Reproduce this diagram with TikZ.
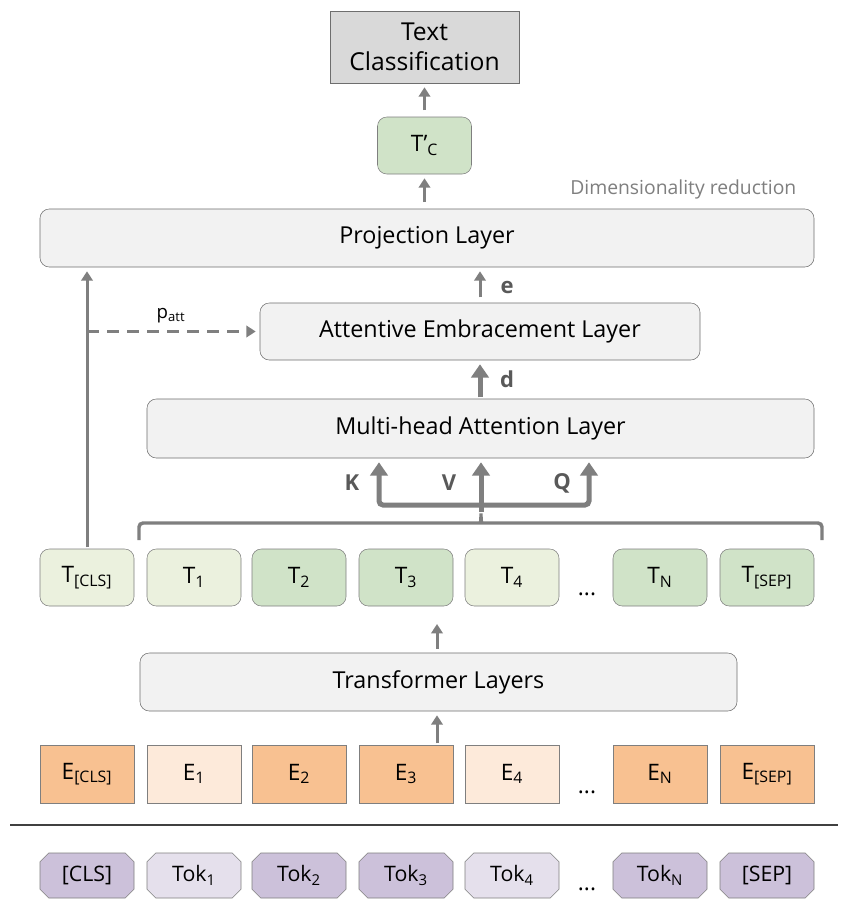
\documentclass[tikz,border=0pt]{standalone}
\usepackage{fontspec}
\setmainfont{Open Sans}
\usetikzlibrary{arrows.meta, shapes.misc}
\definecolor{line gray}{HTML}{7F7F7F}
\definecolor{edge gray}{HTML}{6E6E6E}
\definecolor{label gray}{HTML}{595959}
\definecolor{layer fill}{HTML}{F2F2F2}
\definecolor{class fill}{HTML}{D9D9D9}
\definecolor{green dark}{HTML}{D0E3C8}
\definecolor{green light}{HTML}{EBF1DE}
\definecolor{orange dark}{HTML}{F8C191}
\definecolor{orange light}{HTML}{FDEADA}
\definecolor{purple dark}{HTML}{CCC1DA}
\definecolor{purple light}{HTML}{E5E0EC}
\tikzset{layer/.style={draw=edge gray, fill=layer fill, rounded corners=7pt, inner sep=0pt, font=\fontsize{17.5}{20}\selectfont}}
\tikzset{tbox/.style={draw=line gray, rounded corners=7pt, inner sep=0pt, minimum width=70.5pt, minimum height=42.75pt, font=\fontsize{17}{20}\selectfont}}
\tikzset{ebox/.style={draw=line gray, inner sep=0pt, minimum width=70.5pt, minimum height=43.5pt, font=\fontsize{17}{20}\selectfont}}
\tikzset{tokbox/.style={draw=line gray, chamfered rectangle, chamfered rectangle xsep=3.3pt, chamfered rectangle ysep=3.3pt, inner sep=0pt, minimum width=70.5pt, minimum height=33.75pt, font=\fontsize{16}{19}\selectfont}}
\tikzset{thinarrow/.style={draw=line gray, line width=2.25pt, -{Triangle[width=8.5pt, length=7pt]}, shorten >=3pt}}
\tikzset{thickarrow/.style={draw=line gray, line width=3.75pt, -{Triangle[width=13pt, length=10pt]}, shorten >=3pt}}
\tikzset{dotsnode/.style={anchor=base, font=\fontsize{17}{20}\selectfont}}
\tikzset{kvqlabel/.style={text=label gray, font=\fontsize{16.5}{19}\selectfont\bfseries}}

\begin{document}
\begin{tikzpicture}[x=0.75pt, y=-0.75pt]
  \useasboundingbox[fill=white] (0,0) rectangle (847,914);
  % output side
  \node[draw=edge gray, fill=class fill, inner sep=0pt, minimum width=141.75pt, minimum height=54pt, align=center, font=\fontsize{18.5}{22.5}\selectfont] (cls) at (424.5,47) {Text\\Classification};
  \node[tbox, fill=green dark] (tcp) at (424.5,145.5) {T’\textsubscript{C}};
  \node[anchor=east, text=line gray, font=\fontsize{14.5}{17}\selectfont] (dimred) at (801,189) {Dimensionality reduction};
  \node[layer, minimum width=580.5pt, minimum height=43.5pt] (proj) at (427,238) {Projection Layer};
  \node[layer, minimum width=330pt, minimum height=42.75pt] (att) at (480,331.5) {Attentive Embracement Layer};
  \node[layer, minimum width=500.25pt, minimum height=44.25pt] (mha) at (480.5,428.5) {Multi-head Attention Layer};
  \node[layer, minimum width=447.75pt, minimum height=43.5pt] (trans) at (438.5,682) {Transformer Layers};
  % transformer outputs
  \node[tbox, fill=green light] (tcls) at (87,577.5) {T\textsubscript{[CLS]}};
  \node[tbox, fill=green light] (t1) at (194,577.5) {T\textsubscript{1}};
  \node[tbox, fill=green dark] (t2) at (299,577.5) {T\textsubscript{2}};
  \node[tbox, fill=green dark] (t3) at (406,577.5) {T\textsubscript{3}};
  \node[tbox, fill=green light] (t4) at (512,577.5) {T\textsubscript{4}};
  \node[dotsnode] (tdots) at (587,595) {...};
  \node[tbox, fill=green dark] (tn) at (660,577.5) {T\textsubscript{N}};
  \node[tbox, fill=green dark] (tsep) at (767,577.5) {T\textsubscript{[SEP]}};
  % embeddings
  \node[ebox, fill=orange dark] (ecls) at (87,774) {E\textsubscript{[CLS]}};
  \node[ebox, fill=orange light] (e1) at (194,774) {E\textsubscript{1}};
  \node[ebox, fill=orange dark] (e2) at (299,774) {E\textsubscript{2}};
  \node[ebox, fill=orange dark] (e3) at (406,774) {E\textsubscript{3}};
  \node[ebox, fill=orange light] (e4) at (512,774) {E\textsubscript{4}};
  \node[dotsnode] (edots) at (587,793) {...};
  \node[ebox, fill=orange dark] (en) at (660,774) {E\textsubscript{N}};
  \node[ebox, fill=orange dark] (esep) at (767,774) {E\textsubscript{[SEP]}};
  % tokens
  \draw[draw=black!75, line width=1.5pt] (10,825) -- (838,825);
  \node[tokbox, fill=purple dark] (tokcls) at (87,875.5) {[CLS]};
  \node[tokbox, fill=purple light] (tok1) at (194,875.5) {Tok\textsubscript{1}};
  \node[tokbox, fill=purple dark] (tok2) at (299,875.5) {Tok\textsubscript{2}};
  \node[tokbox, fill=purple dark] (tok3) at (406,875.5) {Tok\textsubscript{3}};
  \node[tokbox, fill=purple light] (tok4) at (512,875.5) {Tok\textsubscript{4}};
  \node[dotsnode] (tokdots) at (587,890) {...};
  \node[tokbox, fill=purple dark] (tokn) at (660,875.5) {Tok\textsubscript{N}};
  \node[tokbox, fill=purple dark] (toksep) at (767,875.5) {[SEP]};
  % arrows
  \draw[thinarrow, shorten <=5pt] (tcp.north) -- (cls.south);
  \draw[thinarrow, shorten <=5pt] (tcp.south |- proj.north) -- (tcp.south);
  \draw[thinarrow, shorten <=4pt] (att.north) -- (att.north |- proj.south);
  \node[kvqlabel] (elabel) at (507,287) {e};
  \draw[thickarrow, shorten <=1pt] (att.south |- mha.north) -- (att.south);
  \node[kvqlabel] (dlabel) at (507,379) {d};
  \draw[thinarrow, shorten <=1pt] (tcls.north) -- (tcls.north |- proj.south);
  \coordinate (split) at (tcls.north |- att.west);
  \draw[thinarrow, dash pattern=on 9pt off 6pt] (split) -- (att.west);
  \node[font=\fontsize{14}{16}\selectfont] (patt) at (171,316) {p\textsubscript{att}};
  \draw[thinarrow, shorten <=3pt] (trans.north -| 437,0) -- (437,620);
  \draw[thinarrow, shorten <=1pt] (e3.north -| 437,0) -- (trans.south -| 437,0);
  % K, V and Q
  \draw[draw=line gray, line width=2.6pt, rounded corners=3pt] (139,540) |- (476,523) to[out=0, in=-90] (481,511) to[out=-90, in=180] (486,523) -| (822,540);
  \coordinate (vsplit) at (481,512);
  \draw[thickarrow] (vsplit) -- (vsplit |- mha.south);
  \draw[thickarrow, rounded corners=3pt] (481,505) -| (mha.south -| 379,0);
  \draw[thickarrow, rounded corners=3pt] (481,505) -| (mha.south -| 589,0);
  \node[kvqlabel] (klabel) at (352,483) {K};
  \node[kvqlabel] (vlabel) at (449,483) {V};
  \node[kvqlabel] (qlabel) at (562,483) {Q};
\end{tikzpicture}
\end{document}
